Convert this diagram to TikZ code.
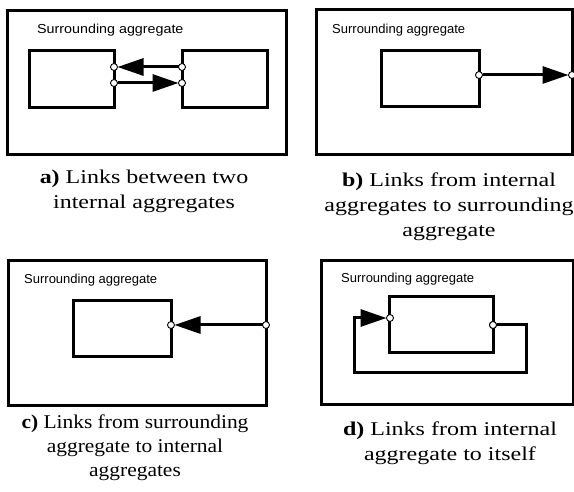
\documentclass[tikz,border=0pt]{standalone}
\usepackage{fontspec}
\setmainfont{Liberation Serif}
\newfontfamily\capfont[FakeStretch=1.23]{Liberation Serif}
\newfontfamily\capfontn[FakeStretch=1.1]{Liberation Serif}
\newfontfamily\lblfont{Liberation Sans}
\newfontfamily\lblfontw[FakeStretch=1.1]{Liberation Sans}
\usetikzlibrary{arrows.meta}
\begin{document}
\begin{tikzpicture}[x=1pt,y=-1pt,
  outerbox/.style={draw, line width=3pt, inner sep=0pt, outer sep=0pt},
  innerbox/.style={draw, line width=3pt, inner sep=0pt, outer sep=0pt},
  port/.style={circle, draw, fill=white, line width=0.9pt, minimum size=7pt, inner sep=0pt, outer sep=0pt},
  connline/.style={draw, line width=3pt, line join=miter, -{Triangle[length=26pt,width=17pt]}},
  lbl/.style={inner sep=0pt, font=\lblfont\fontsize{13}{15}\selectfont},
  caption/.style={inner sep=0pt, align=center, anchor=north, font=\capfont\fontsize{19.5}{25}\selectfont}
]
\useasboundingbox (0,0) rectangle (574,492);

% ---------- panel a ----------
\node[outerbox, minimum width=279pt, minimum height=144pt] (A) at (146.5,83) {};
\node[lbl, anchor=base west] (la) at (37,34) {\lblfontw Surrounding aggregate};
\node[innerbox, minimum width=85pt, minimum height=57pt] (A1) at (71.5,79.5) {};
\node[innerbox, minimum width=85pt, minimum height=57pt] (A2) at (224.5,79.5) {};
\node[port] (a1u) at (114,67) {};
\node[port] (a1l) at (114,83) {};
\node[port] (a2u) at (182,67) {};
\node[port] (a2l) at (182,83) {};
\path[connline] (a2u) -- (a1u);
\path[connline] (a1l) -- (a2l);
\node[caption] (ca) at (144,169.5) {\textbf{a)} Links between two\\internal aggregates};

% ---------- panel b ----------
\node[outerbox, minimum width=256pt, minimum height=145pt] (B) at (444,82.5) {};
\node[lbl, anchor=base west] (lb) at (332,34) {Surrounding aggregate};
\node[innerbox, minimum width=98pt, minimum height=56pt] (B1) at (430,79) {};
\node[port] (b1) at (479,75) {};
\node[port] (bo) at (572,75) {};
\path[connline] (b1) -- (bo);
\node[caption] (cb) at (449,172.5) {\textbf{b)} Links from internal\\aggregates to surrounding\\aggregate};

% ---------- panel c ----------
\node[outerbox, minimum width=258pt, minimum height=144pt] (C) at (137,333) {};
\node[lbl, anchor=base west] (lc) at (24,283.5) {Surrounding aggregate};
\node[innerbox, minimum width=98pt, minimum height=56pt] (C1) at (122,329) {};
\node[port] (c1) at (171,325) {};
\node[port] (co) at (266,325) {};
\path[connline] (co) -- (c1);
\node[caption, font=\capfontn\fontsize{19.5}{24}\selectfont] (cc) at (135,414.5) {\textbf{c)} Links from surrounding\\aggregate to internal\\aggregates};

% ---------- panel d ----------
\node[outerbox, minimum width=252pt, minimum height=143pt] (D) at (447,332.5) {};
\node[lbl, anchor=base west] (ld) at (341,283) {Surrounding aggregate};
\node[innerbox, minimum width=104pt, minimum height=56pt] (D1) at (441,325) {};
\coordinate (dr) at (526,373);
\coordinate (dl) at (354,373);
\node[port] (d1r) at (493,325) {};
\node[port] (d1l) at (390,318) {};
\path[connline] (d1r) -| (dr) -- (dl) |- (d1l);
\node[port] at (d1r) {};
\node[caption] (cd) at (450,421.5) {\textbf{d)} Links from internal\\aggregate to itself};
\end{tikzpicture}
\end{document}
